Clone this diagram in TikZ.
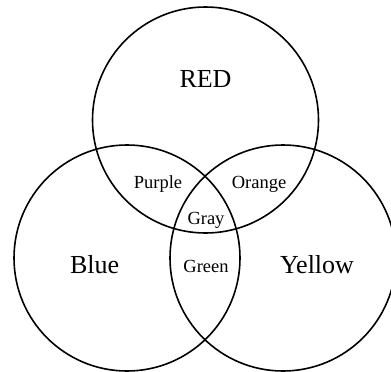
\documentclass[tikz,border=0pt]{standalone}
\usepackage{fontspec}
\setmainfont{Liberation Serif}
\begin{document}
\begin{tikzpicture}[x=1pt,y=-1pt,
  ring/.style={draw=black,line width=1.6pt,circle,minimum size=226pt,inner sep=0pt},
  big/.style={font=\fontsize{26}{30}\selectfont,anchor=base,inner sep=0pt},
  small/.style={font=\fontsize{18.5}{22}\selectfont,anchor=base,inner sep=0pt}]
\useasboundingbox (0,0) rectangle (391,372);
\node[ring] (red) at (205.5,120) {};
\node[ring] (blue) at (127,258) {};
\node[ring] (yellow) at (283,258) {};
\node[big] (tred) at (205.5,87.3) {RED};
\node[big] (tblue) at (94.7,273) {Blue};
\node[big] (tyellow) at (317,273) {Yellow};
\node[small] (tpurple) at (158,188) {Purple};
\node[small] (torange) at (259,188) {Orange};
\node[small] (tgray) at (206,224) {Gray};
\node[small] (tgreen) at (206,272) {Green};
\end{tikzpicture}
\end{document}
